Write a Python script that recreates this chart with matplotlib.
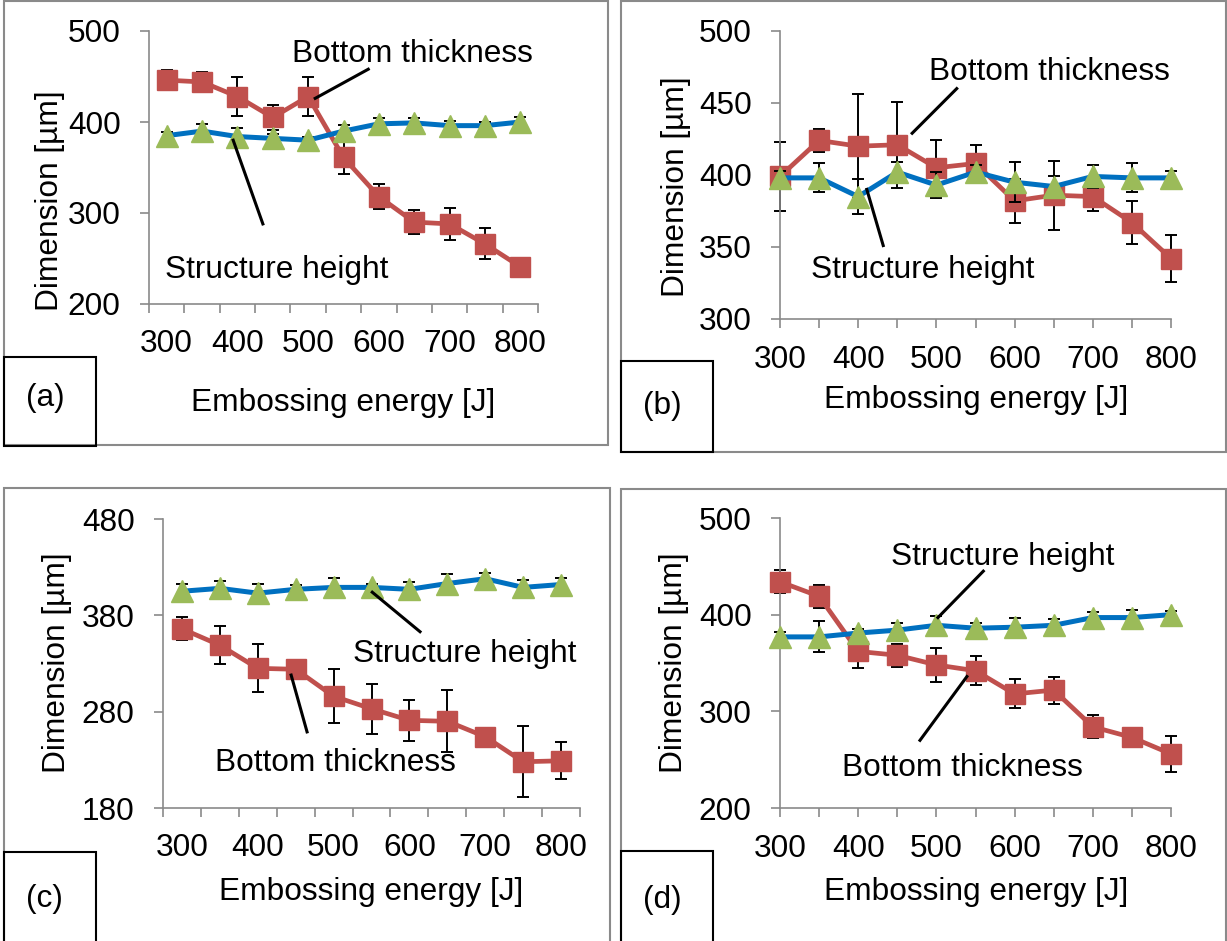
import matplotlib
matplotlib.use("Agg")
import matplotlib.pyplot as plt
from matplotlib.patches import Rectangle
from matplotlib.ticker import FixedLocator, NullFormatter, FixedFormatter

plt.rcParams['font.family'] = ['Liberation Sans', 'DejaVu Sans']

# ---------------- data ----------------
energy = [300, 350, 400, 450, 500, 550, 600, 650, 700, 750, 800]

a_bottom = [446, 444, 428, 405, 428, 361, 318, 290, 288, 266, 241]
a_bottom_err = [11, 11, 21, 14, 21, 18, 14, 13, 18, 17, 3]
a_height = [385, 390, 384, 382, 380, 390, 398, 399, 396, 396, 400]
a_height_err = [4, 8, 9, 5, 4, 7, 6, 5, 5, 4, 6]

b_bottom = [399, 424, 420, 421, 405, 408, 382, 386, 385, 367, 342]
b_bottom_err = [24, 8, 36, 30, 19, 13, 15, 24, 10, 15, 16]
b_height = [398, 398, 385, 402, 393, 402, 395, 392, 399, 398, 398]
b_height_err = [5, 10, 12, 7, 9, 5, 14, 7, 8, 10, 5]

c_bottom = [366, 349, 325, 324, 296, 283, 271, 270, 254, 228, 229]
c_bottom_err = [12, 20, 25, 3, 28, 26, 21, 32, 8, 37, 19]
c_height = [405, 408, 403, 407, 409, 409, 407, 413, 418, 409, 412]
c_height_err = [8, 8, 10, 4, 10, 4, 8, 10, 6, 8, 7]

d_bottom = [434, 419, 362, 358, 348, 342, 318, 322, 284, 273, 256]
d_bottom_err = [12, 12, 17, 12, 18, 15, 15, 14, 12, 3, 19]
d_height = [377, 377, 381, 384, 389, 386, 387, 389, 397, 397, 400]
d_height_err = [5, 16, 4, 7, 10, 5, 10, 7, 6, 8, 4]

x_labels = ['300', '400', '500', '600', '700', '800']
y_label = 'Dimension [µm]'
x_label = 'Embossing energy [J]'
label_bottom = 'Bottom thickness'
label_height = 'Structure height'

# ---------------- style ----------------
W, H = 1227, 941
RED = '#C0504D'
GREEN = '#9BBB59'
BLUE = '#0070C0'
GRAY = '#8A8A8A'
FS = 22.8

fig = plt.figure(figsize=(W / 100, H / 100), dpi=100)


def fx(px):
    return px / W


def fy(py):
    return 1 - py / H


def add_rect(x0, y0, x1, y1, color, lw):
    r = Rectangle((fx(x0), fy(y1)), fx(x1) - fx(x0), fy(y0) - fy(y1),
                  transform=fig.transFigure, fill=False, edgecolor=color,
                  linewidth=lw, clip_on=False)
    fig.add_artist(r)


def make_axes(box, ylim, yticks, category):
    x0, y0, x1, y1 = box
    ax = fig.add_axes([fx(x0), fy(y1), fx(x1) - fx(x0), fy(y0) - fy(y1)])
    ax.set_facecolor('none')
    for s in ['top', 'right']:
        ax.spines[s].set_visible(False)
    for s in ['left', 'bottom']:
        ax.spines[s].set_color(GRAY)
        ax.spines[s].set_linewidth(1.2)
    ax.set_ylim(*ylim)
    ax.set_yticks(yticks)
    ax.set_yticklabels([str(v) for v in yticks])
    ax.tick_params(axis='y', direction='out', length=6.5, width=1.2,
                   color=GRAY, labelsize=FS, pad=14)
    if category:
        ax.set_xlim(275, 825)
        ax.xaxis.set_major_locator(FixedLocator([275 + 50 * i for i in range(12)]))
        ax.xaxis.set_major_formatter(NullFormatter())
        ax.xaxis.set_minor_locator(FixedLocator(energy[::2]))
        ax.xaxis.set_minor_formatter(FixedFormatter(x_labels))
        ax.tick_params(axis='x', which='major', direction='out', length=6.5,
                       width=1.2, color=GRAY)
        ax.tick_params(axis='x', which='minor', length=0, labelsize=FS, pad=18)
    else:
        ax.set_xlim(300, 800)
        ax.xaxis.set_major_locator(FixedLocator(energy[::2]))
        ax.xaxis.set_major_formatter(FixedFormatter(x_labels))
        ax.xaxis.set_minor_locator(FixedLocator(energy[1::2]))
        ax.xaxis.set_minor_formatter(NullFormatter())
        ax.tick_params(axis='x', which='both', direction='out', length=6.5,
                       width=1.2, color=GRAY, labelsize=FS, pad=12)
    return ax


def draw_series(ax, bottom, bottom_err, height, height_err):
    ax.errorbar(energy, bottom, yerr=bottom_err, fmt='none', ecolor='black',
                elinewidth=1.4, capsize=4, capthick=1.4, zorder=2, clip_on=False)
    ax.plot(energy, bottom, color=RED, linewidth=3.4, marker='s', markersize=14,
            markerfacecolor=RED, markeredgecolor=RED, zorder=3, clip_on=False)
    ax.errorbar(energy, height, yerr=height_err, fmt='none', ecolor='black',
                elinewidth=1.4, capsize=4, capthick=1.4, zorder=4, clip_on=False)
    ax.plot(energy, height, color=BLUE, linewidth=3.6, zorder=5, clip_on=False)
    ax.plot(energy, height, linestyle='none', marker='^', markersize=15.5,
            markerfacecolor=GREEN, markeredgecolor=GREEN, zorder=6, clip_on=False)


def annotate(ax, text, tx, ty, l0, l1):
    ax.text(tx, ty, text, fontsize=FS, ha='center', va='center', zorder=7,
            clip_on=False)
    ax.plot([l0[0], l1[0]], [l0[1], l1[1]], color='black', linewidth=2.2,
            zorder=7, clip_on=False)


# ---------------- panel frames ----------------
add_rect(4, 1, 608, 445, GRAY, 1.5)
add_rect(621, 1, 1226, 452, GRAY, 1.5)
add_rect(4, 488, 610, 946, GRAY, 1.5)
add_rect(621, 489, 1226, 946, GRAY, 1.5)

add_rect(4, 357, 96, 446, 'black', 1.5)
add_rect(621, 361, 713, 452, 'black', 1.5)
add_rect(4, 852, 96, 946, 'black', 1.5)
add_rect(621, 851, 713, 946, 'black', 1.5)

for txt, (px, py) in zip(['(a)', '(b)', '(c)', '(d)'],
                         [(45, 398), (662, 406), (44, 899), (662, 900)]):
    fig.text(fx(px), fy(py), txt, fontsize=FS, ha='center', va='center')

# ---------------- panel (a) ----------------
ax_a = make_axes((149, 31, 538, 304), (200, 500), [200, 300, 400, 500], True)
draw_series(ax_a, a_bottom, a_bottom_err, a_height, a_height_err)
annotate(ax_a, label_bottom, 648, 475, (585, 458), (510, 426))
annotate(ax_a, label_height, 456, 237, (394, 380), (436, 288))

# ---------------- panel (b) ----------------
ax_b = make_axes((780, 31, 1171, 319), (300, 500), [300, 350, 400, 450, 500], False)
draw_series(ax_b, b_bottom, b_bottom_err, b_height, b_height_err)
annotate(ax_b, label_bottom, 645, 471.5, (526, 460), (469, 429))
annotate(ax_b, label_height, 482, 334, (411, 390), (432, 351))

# ---------------- panel (c) ----------------
ax_c = make_axes((163, 519, 580, 808), (180, 480), [180, 280, 380, 480], True)
draw_series(ax_c, c_bottom, c_bottom_err, c_height, c_height_err)
annotate(ax_c, label_height, 673, 340, (551, 404), (614, 363))
annotate(ax_c, label_bottom, 502, 227, (444, 318), (465, 259))

# ---------------- panel (d) ----------------
ax_d = make_axes((780, 518, 1171, 808), (200, 500), [200, 300, 400, 500], False)
draw_series(ax_d, d_bottom, d_bottom_err, d_height, d_height_err)
annotate(ax_d, label_height, 585, 460, (560, 445), (502, 397))
annotate(ax_d, label_bottom, 533, 241, (539, 336), (479, 270))

# ---------------- axis titles ----------------
for (px, py) in [(50, 201), (676, 187), (57, 663), (674, 663)]:
    fig.text(fx(px), fy(py), y_label, fontsize=FS, rotation=90,
             ha='center', va='center')
for (px, py) in [(343, 403), (976, 400), (371, 892), (976, 892)]:
    fig.text(fx(px), fy(py), x_label, fontsize=FS, ha='center', va='center')

fig.savefig('out.png', dpi=100)
